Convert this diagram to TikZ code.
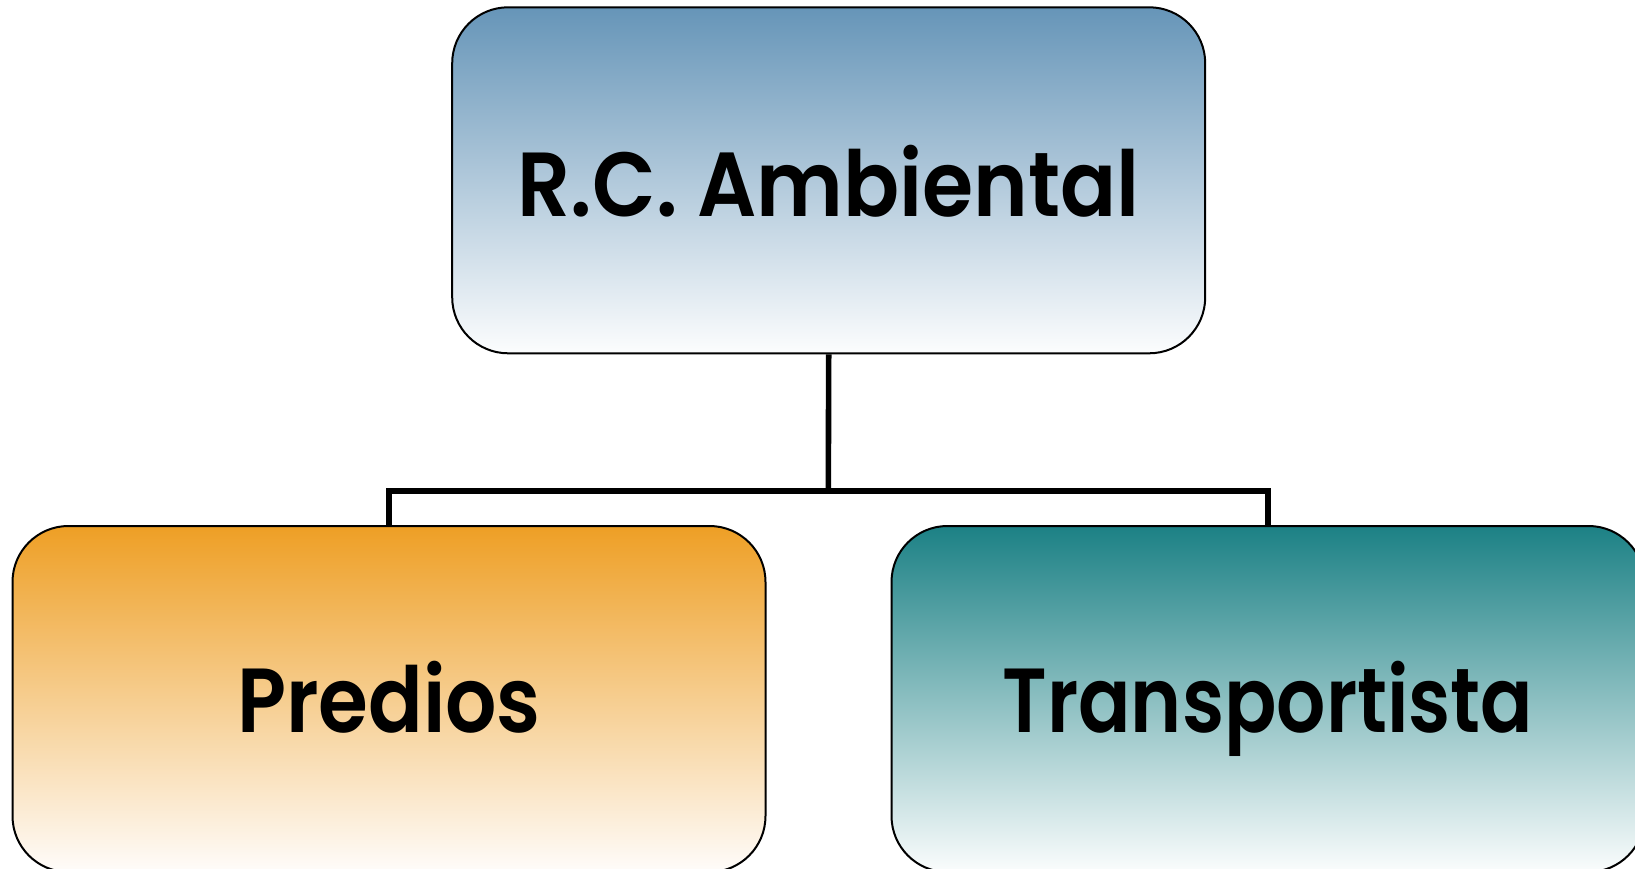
\documentclass[tikz,border=0pt]{standalone}
\usepackage{fontspec}
\setmainfont{Poppins}[BoldFont={* SemiBold}]
\definecolor{topc}{HTML}{6695B8}
\definecolor{leftc}{HTML}{EE9F25}
\definecolor{leftm}{HTML}{F3C6A2}
\definecolor{rightc}{HTML}{1C8185}
\tikzset{
  boxnode/.style={draw=black, line width=2pt, rounded corners=56pt,
    minimum width=753pt, minimum height=346pt, inner sep=0pt,
    font=\bfseries\fontsize{91}{91}\selectfont, text depth=0pt},
  conn/.style={draw=black, line width=5.6pt},
}
\begin{document}
\begin{tikzpicture}[x=1pt,y=-1pt]
\useasboundingbox (0,0) rectangle (1635,869);
\clip (0,0) rectangle (1635,869);
\node[boxnode, text height=72pt, top color=topc, middle color=topc!36!white, bottom color=topc!2!white] (top) at (828.7,180.3) {\scalebox{0.91}[1]{R.C. Ambiental}};
\node[boxnode, text height=66pt, top color=leftc, middle color=leftm, bottom color=leftm!5!white] (left) at (389,699) {\scalebox{0.886}[1]{Predios}};
\node[boxnode, text height=66pt, top color=rightc, middle color=rightc!33!white, bottom color=rightc!2!white] (right) at (1268,699) {\scalebox{0.85}[1]{Transportista}};
\coordinate (mid) at (828.3,491);
\draw[conn] (top.south) -- (mid);
\draw[conn] (left.north) |- (mid) -| (right.north);
\end{tikzpicture}
\end{document}
